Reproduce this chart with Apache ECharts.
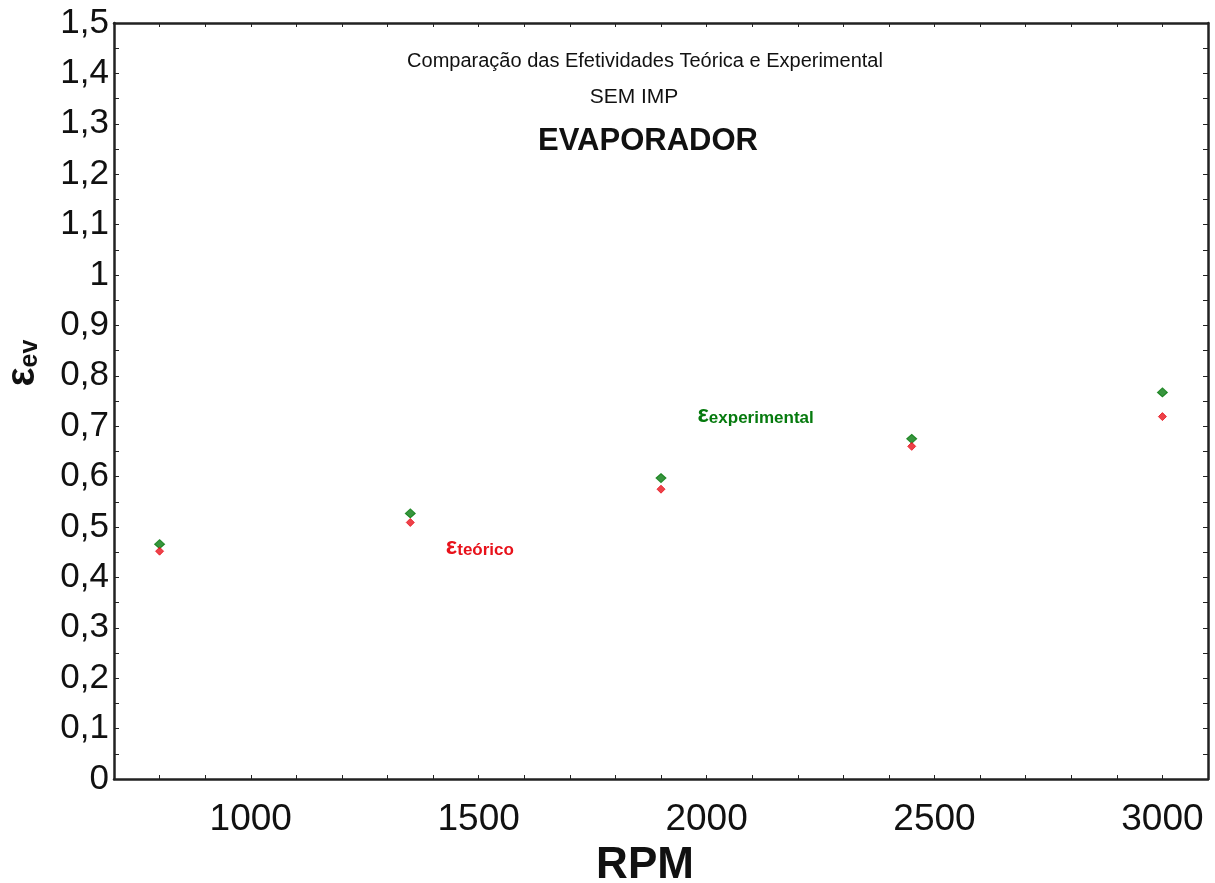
<!DOCTYPE html>
<html>
<head>
<meta charset="utf-8">
<script src="https://cdn.jsdelivr.net/npm/echarts@6/dist/echarts.min.js"></script>
<style>
  html, body { margin: 0; padding: 0; background: #fff; }
  #chart { width: 1215px; height: 883px; }
</style>
</head>
<body>
<div id="chart"></div>
<script>
// Rotational speed (RPM) of each test run
const rpm = [800, 1350, 1900, 2450, 3000];
// Effectiveness of the evaporator, measured and theoretical
const effExperimental = [0.466, 0.527, 0.597, 0.675, 0.767];
const effTeorico = [0.452, 0.509, 0.575, 0.660, 0.719];

const titleLines = ['Comparação das Efetividades Teórica e Experimental', 'SEM IMP', 'EVAPORADOR'];
const xName = 'RPM';
const xMin = 700, xMax = 3100, xStep = 100, xLabelStep = 500;
const yMin = 0, yMax = 1.5, yStep = 0.05;

// Series name annotations, anchored in data space
const annotExp = { x: 1980, y: 0.722 };
const annotTeo = { x: 1428, y: 0.460 };

const FONT = '"Liberation Sans", Arial, Helvetica, sans-serif';
const AXIS_COLOR = '#222';
const GREEN = '#067a0e';
const RED = '#e8121b';

const yFmt = v => {
  const k = Math.round(v * 100);
  if (k % 10 !== 0) return '';
  return String(k / 100).replace('.', ',');
};
const xFmt = v => (Math.round(v) % xLabelStep === 0 ? String(Math.round(v)) : '');

const axisCommon = {
  axisLine: { show: true, onZero: false, lineStyle: { color: AXIS_COLOR, width: 2.5 } },
  splitLine: { show: false },
};

const chart = echarts.init(document.getElementById('chart'), null, { renderer: 'canvas' });

chart.setOption({
  backgroundColor: '#fff',
  animation: false,
  grid: { left: 114, right: 7, top: 23, bottom: 104, containLabel: false },
  xAxis: [
    Object.assign({}, axisCommon, {
      type: 'value', position: 'bottom', min: xMin, max: xMax, interval: xStep,
      axisTick: { show: true, inside: true, length: 4, lineStyle: { color: AXIS_COLOR, width: 1 } },
      axisLabel: { show: true, interval: 0, formatter: xFmt, margin: 22,
        fontFamily: FONT, fontSize: 37, color: '#111' },
      showMinLabel: true, showMaxLabel: true
    }),
    Object.assign({}, axisCommon, {
      type: 'value', position: 'top', min: xMin, max: xMax, interval: xStep,
      axisTick: { show: true, inside: true, length: 4, lineStyle: { color: AXIS_COLOR, width: 1 } },
      axisLabel: { show: false }
    })
  ],
  yAxis: [
    Object.assign({}, axisCommon, {
      type: 'value', position: 'left', min: yMin, max: yMax, interval: yStep,
      axisTick: { show: true, inside: true, length: 5, lineStyle: { color: AXIS_COLOR, width: 1 } },
      axisLabel: { show: true, interval: 0, formatter: yFmt, margin: 5,
        fontFamily: FONT, fontSize: 35, color: '#111' }
    }),
    Object.assign({}, axisCommon, {
      type: 'value', position: 'right', min: yMin, max: yMax, interval: yStep,
      axisTick: { show: true, inside: true, length: 5, lineStyle: { color: AXIS_COLOR, width: 1 } },
      axisLabel: { show: false }
    })
  ],
  series: [
    {
      name: 'experimental', type: 'scatter', symbol: 'diamond', symbolSize: [10, 9],
      itemStyle: { color: GREEN, borderColor: GREEN, borderWidth: 1 },
      data: rpm.map((r, i) => [r, effExperimental[i]]), z: 3
    },
    {
      name: 'teorico', type: 'scatter', symbol: 'diamond', symbolSize: [8, 8],
      itemStyle: { color: RED, borderColor: RED, borderWidth: 1 },
      data: rpm.map((r, i) => [r, effTeorico[i]]), z: 4
    }
  ]
});

const pExp = chart.convertToPixel({ gridIndex: 0 }, [annotExp.x, annotExp.y]);
const pTeo = chart.convertToPixel({ gridIndex: 0 }, [annotTeo.x, annotTeo.y]);

chart.setOption({
  graphic: [
    { type: 'text', x: 645, y: 61, style: { text: titleLines[0], font: '20px ' + FONT, fill: '#111', textAlign: 'center', textVerticalAlign: 'middle' } },
    { type: 'text', x: 634, y: 97, style: { text: titleLines[1], font: '21px ' + FONT, fill: '#111', textAlign: 'center', textVerticalAlign: 'middle' } },
    { type: 'text', x: 648, y: 141, style: { text: titleLines[2], font: 'bold 31px ' + FONT, fill: '#111', textAlign: 'center', textVerticalAlign: 'middle' } },
    { type: 'text', x: 645, y: 866, style: { text: xName, font: 'bold 44px ' + FONT, fill: '#111', textAlign: 'center', textVerticalAlign: 'middle' } },
    {
      type: 'text', x: 23, y: 363, rotation: Math.PI / 2,
      style: {
        text: '{e|ε}{s|ev}', textAlign: 'center', textVerticalAlign: 'middle',
        rich: {
          e: { fontFamily: FONT, fontSize: 40, fontWeight: 'bold', fill: '#111', verticalAlign: 'bottom' },
          s: { fontFamily: FONT, fontSize: 25, fontWeight: 'bold', fill: '#111', verticalAlign: 'bottom' }
        }
      }
    },
    {
      type: 'text', x: pExp[0], y: pExp[1],
      style: {
        text: '{e|ε}{s|experimental}', textAlign: 'left', textVerticalAlign: 'middle',
        rich: {
          e: { fontFamily: FONT, fontSize: 24, fontWeight: 'bold', fill: GREEN, verticalAlign: 'bottom' },
          s: { fontFamily: FONT, fontSize: 17, fontWeight: 'bold', fill: GREEN, verticalAlign: 'bottom' }
        }
      }
    },
    {
      type: 'text', x: pTeo[0], y: pTeo[1],
      style: {
        text: '{e|ε}{s|teórico}', textAlign: 'left', textVerticalAlign: 'middle',
        rich: {
          e: { fontFamily: FONT, fontSize: 24, fontWeight: 'bold', fill: RED, verticalAlign: 'bottom' },
          s: { fontFamily: FONT, fontSize: 17, fontWeight: 'bold', fill: RED, verticalAlign: 'bottom' }
        }
      }
    }
  ]
});
</script>
</body>
</html>
